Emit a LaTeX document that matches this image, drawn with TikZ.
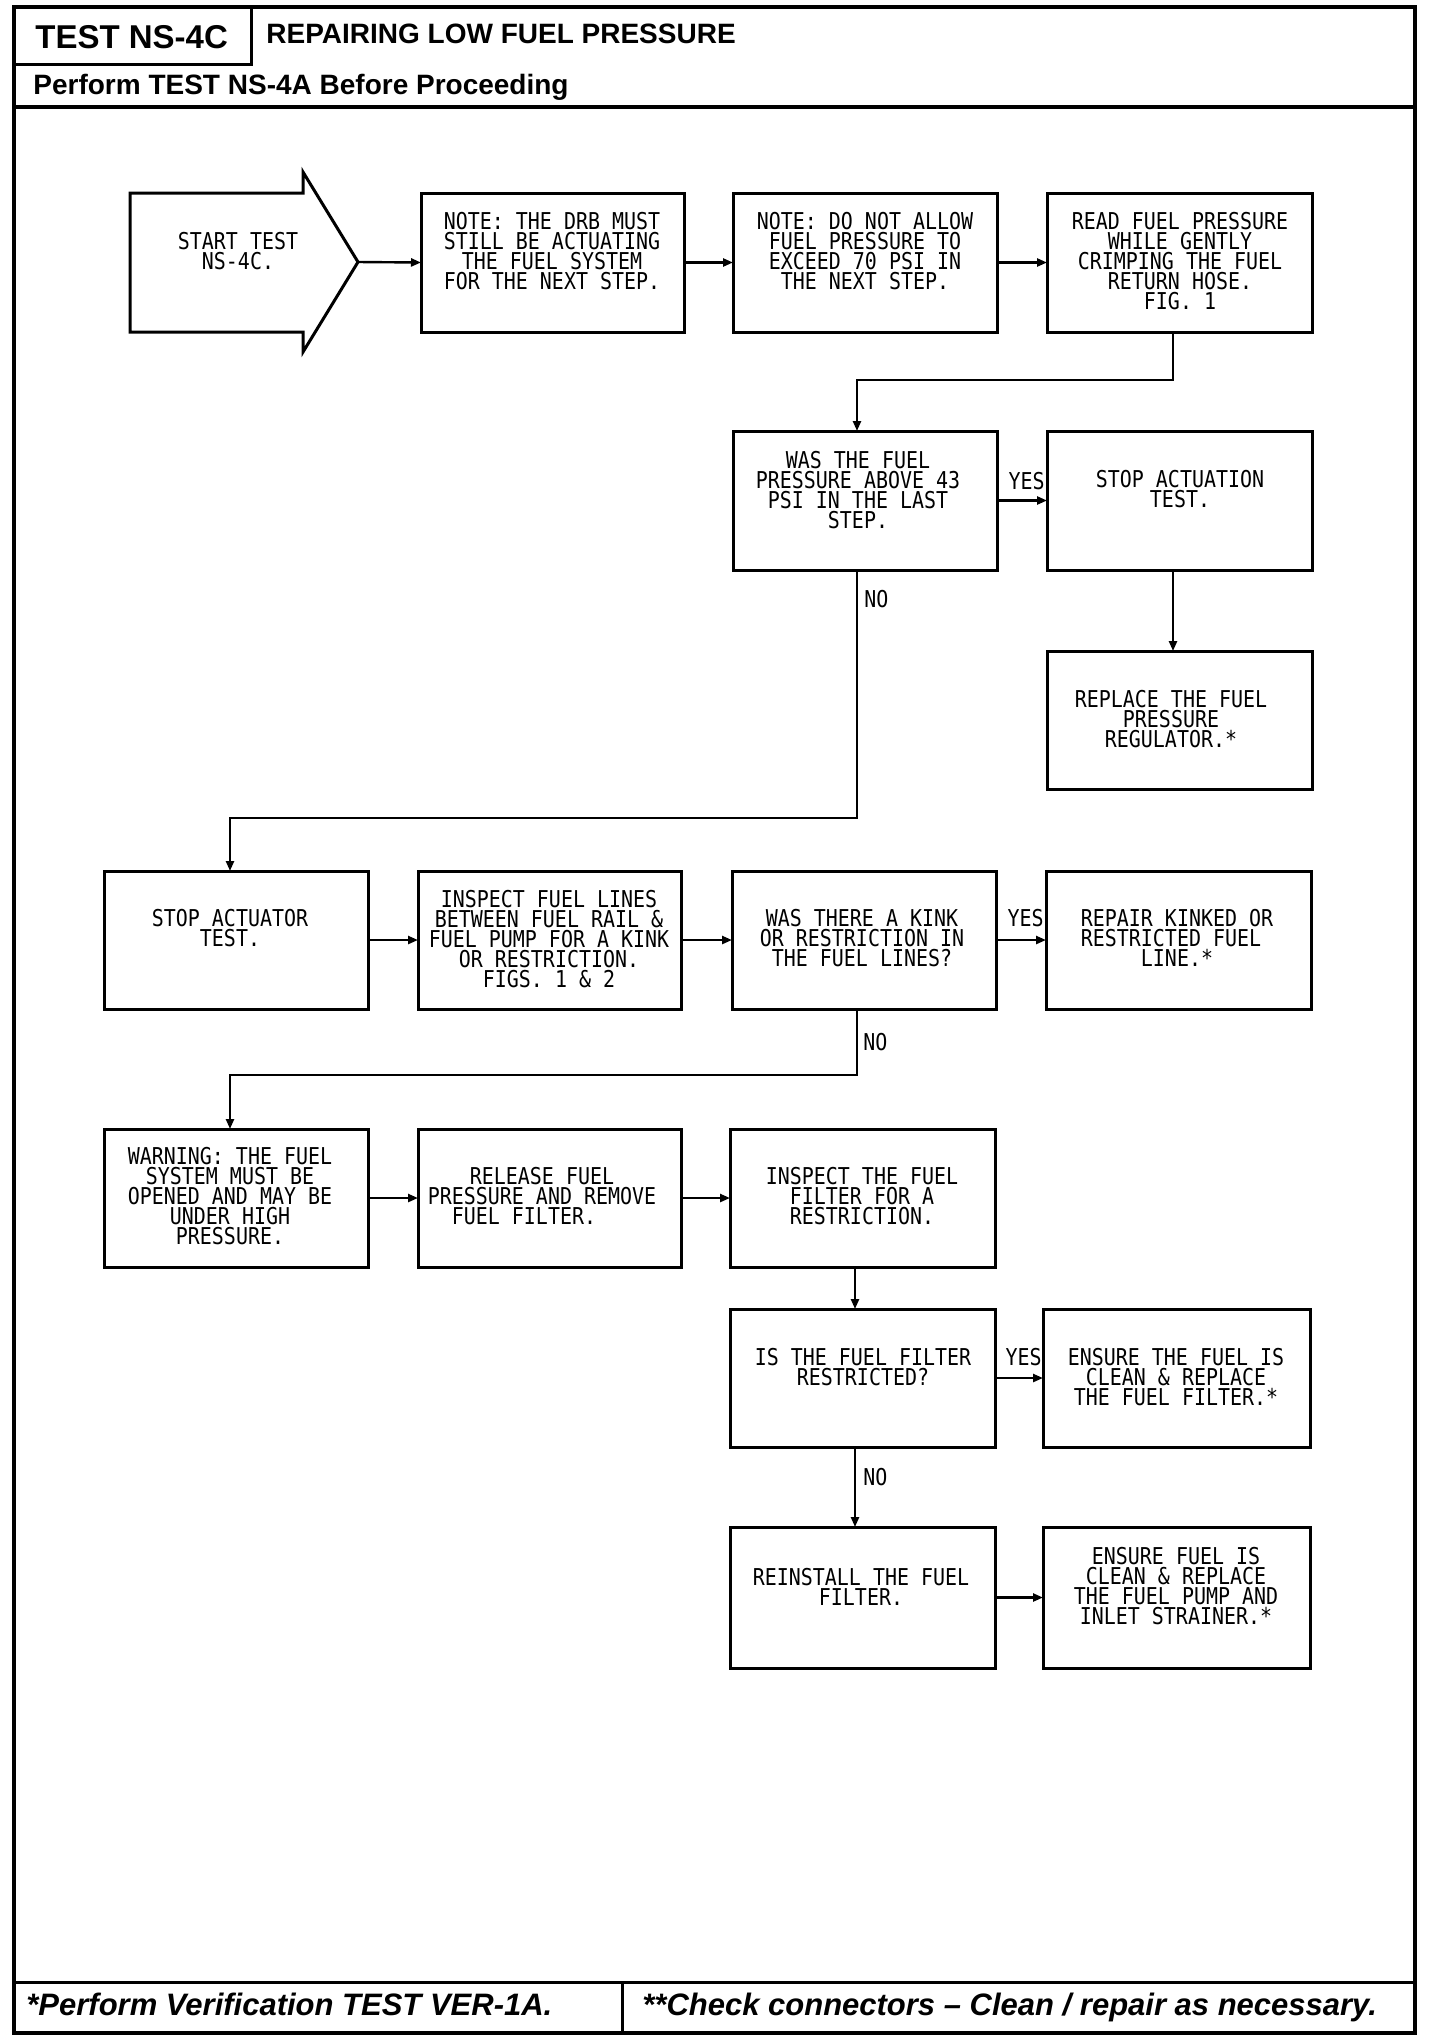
\documentclass[tikz,border=0pt]{standalone}
\usepackage{fontspec}
\setmainfont{Liberation Sans}
\newfontfamily\plotfont[FakeStretch=0.86]{DejaVu Sans Mono}
\usetikzlibrary{arrows.meta}
\lineskiplimit=-20pt
\tikzset{
  shapeline/.style={line width=1.5pt, line join=miter},
  boxst/.style={draw, shapeline, inner sep=0pt, outer sep=0pt},
  txt/.style={font=\plotfont\fontsize{11.6}{10}\selectfont, align=center, inner sep=0pt, anchor=north},
  lab/.style={font=\plotfont\fontsize{11.6}{10}\selectfont, inner sep=0pt},
  conn/.style={line width=1.2pt, -{Triangle[length=5pt,width=4pt]}},
  frame/.style={line width=2pt},
  thinframe/.style={line width=1.5pt},
  hdr/.style={inner sep=0pt, anchor=base west, font=\bfseries\fontsize{14}{16}\selectfont},
  ftr/.style={inner sep=0pt, anchor=base west, font=\bfseries\itshape\fontsize{15.5}{17}\selectfont},
}
\newcommand{\stepbox}[8]{%
  \node[boxst, minimum width={(#4-#2)*0.5pt}, minimum height={(#5-#3)*0.5pt}] (#1) at ({(#2+#4)/2},{(#3+#5)/2}) {};
  \node[txt] (#1t) at (#6,#7) {#8};
}
\begin{document}
\begin{tikzpicture}[x=0.5pt, y=-0.5pt]
\useasboundingbox (0,0) rectangle (1440,2042);
\fill[white] (0,0) rectangle (1440,2042);

% frame and header
\draw[frame] (14,7) rectangle (1415,2033);
\draw[thinframe] (14,64) -- (251,64) -- (251,7);
\draw[frame] (14,107) -- (1415,107);
\draw[thinframe] (14,1982) -- (1415,1982);
\draw[thinframe] (622,1982) -- (622,2033);
\node[hdr, font=\bfseries\fontsize{16.5}{18}\selectfont] (hd1) at (35,48) {TEST NS-4C};
\node[hdr] (hd2) at (266,43) {REPAIRING LOW FUEL PRESSURE};
\node[hdr] (hd3) at (33,94) {Perform TEST NS-4A Before Proceeding};
\node[ftr] (ft1) at (26,2015) {*Perform Verification TEST VER-1A.};
\node[ftr] (ft2) at (642,2015) {**Check connectors – Clean / repair as necessary.};

% start arrow
\draw[shapeline] (130,193) -- (303,193) -- (303,172) -- (358,262) -- (303,352) -- (303,332) -- (130,332) -- cycle;
\coordinate (starttip) at (358,262);
\node[txt] (startt) at (238,232) {START TEST\\NS-4C.};

% boxes
\stepbox{b2}{421}{193}{684}{332}{552}{212}{NOTE: THE DRB MUST\\STILL BE ACTUATING\\THE FUEL SYSTEM\\FOR THE NEXT STEP.}
\stepbox{b3}{733}{193}{997}{332}{865}{212}{NOTE: DO NOT ALLOW\\FUEL PRESSURE TO\\EXCEED 70 PSI IN\\THE NEXT STEP.}
\stepbox{b4}{1047}{193}{1312}{332}{1180}{212}{READ FUEL PRESSURE\\WHILE GENTLY\\CRIMPING THE FUEL\\RETURN HOSE.\\FIG. 1}
\stepbox{q1}{733}{431}{997}{570}{858}{451}{WAS THE FUEL\\PRESSURE ABOVE 43\\PSI IN THE LAST\\STEP.}
\stepbox{sa}{1047}{431}{1312}{570}{1180}{470}{STOP ACTUATION\\TEST.}
\stepbox{rr}{1047}{651}{1312}{789}{1171}{690}{REPLACE THE FUEL\\PRESSURE\\REGULATOR.*}
\stepbox{st}{104}{871}{368}{1009}{230}{909}{STOP ACTUATOR\\TEST.}
\stepbox{in}{418}{871}{681}{1009}{549}{890}{INSPECT FUEL LINES\\BETWEEN FUEL RAIL \&\\FUEL PUMP FOR A KINK\\OR RESTRICTION.\\FIGS. 1 \& 2}
\stepbox{q2}{732}{871}{996}{1009}{862}{909}{WAS THERE A KINK\\OR RESTRICTION IN\\THE FUEL LINES?}
\stepbox{rk}{1046}{871}{1311}{1009}{1177}{909}{REPAIR KINKED OR\\RESTRICTED FUEL\hphantom{X}\\LINE.*}
\stepbox{wn}{104}{1129}{368}{1267}{230}{1147}{WARNING: THE FUEL\\SYSTEM MUST BE\\OPENED AND MAY BE\\UNDER HIGH\\PRESSURE.}
\stepbox{rl}{418}{1129}{681}{1267}{542}{1167}{RELEASE FUEL\\PRESSURE AND REMOVE\\FUEL FILTER.\hphantom{XXX}}
\stepbox{if}{730}{1129}{995}{1267}{862}{1167}{INSPECT THE FUEL\\FILTER FOR A\\RESTRICTION.}
\stepbox{q3}{730}{1309}{995}{1447}{863}{1348}{IS THE FUEL FILTER\\RESTRICTED?}
\stepbox{ef}{1043}{1309}{1310}{1447}{1176}{1348}{ENSURE THE FUEL IS\\CLEAN \& REPLACE\\THE FUEL FILTER.*}
\stepbox{ri}{730}{1527}{995}{1668}{861}{1568}{REINSTALL THE FUEL\\FILTER.}
\stepbox{ep}{1043}{1527}{1310}{1668}{1176}{1547}{ENSURE FUEL IS\\CLEAN \& REPLACE\\THE FUEL PUMP AND\\INLET STRAINER.*}

% connectors
\draw[conn] (starttip) -- (b2.west);
\draw[conn] (b2.east) -- (b3.west);
\draw[conn] (b3.east) -- (b4.west);
\coordinate (k1) at (1173,380);
\coordinate (k2) at (857,380);
\draw[conn] (b4.south -| k1) -- (k1) -- (k2) -- (k2 |- q1.north);
\draw[conn] (q1.east) -- (sa.west);
\node[lab, anchor=base east] (yes1) at (1045,489) {YES};
\draw[conn] (sa.south -| k1) -- (k1 |- rr.north);
\coordinate (k3) at (857,818);
\coordinate (k4) at (230,818);
\draw[conn] (q1.south -| k3) -- (k3) -- (k4) -- (k4 |- st.north);
\node[lab, anchor=base west] (no1) at (864,607) {NO};
\draw[conn] (st.east) -- (in.west);
\draw[conn] (in.east) -- (q2.west);
\draw[conn] (q2.east) -- (rk.west);
\node[lab, anchor=base east] (yes2) at (1044,926) {YES};
\coordinate (k5) at (857,1075);
\coordinate (k6) at (230,1075);
\draw[conn] (q2.south -| k5) -- (k5) -- (k6) -- (k6 |- wn.north);
\node[lab, anchor=base west] (no2) at (863,1050) {NO};
\draw[conn] (wn.east) -- (rl.west);
\draw[conn] (rl.east) -- (if.west);
\coordinate (k7) at (855,1290);
\draw[conn] (if.south -| k7) -- (k7 |- q3.north);
\draw[conn] (q3.east) -- (ef.west);
\node[lab, anchor=base east] (yes3) at (1042,1365) {YES};
\draw[conn] (q3.south -| k7) -- (k7 |- ri.north);
\node[lab, anchor=base west] (no3) at (863,1485) {NO};
\draw[conn] (ri.east) -- (ep.west);
\end{tikzpicture}
\end{document}
